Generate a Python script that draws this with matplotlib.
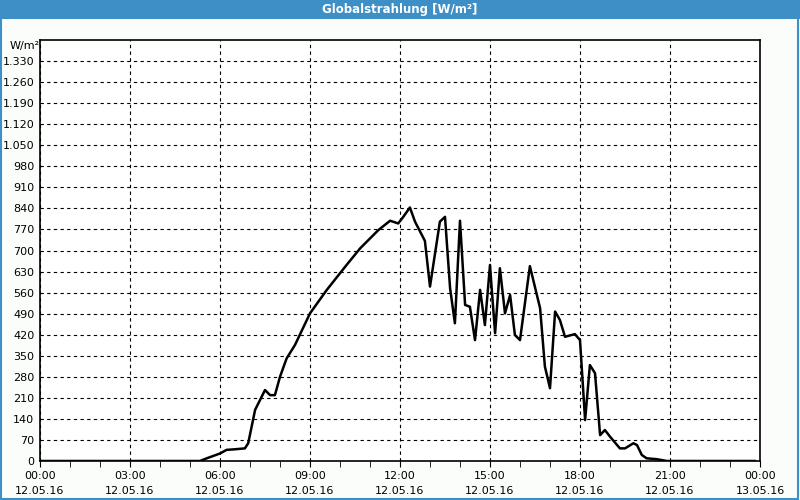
import numpy as np
import matplotlib.pyplot as plt
from matplotlib.patches import Rectangle

# hours since 12.05.16 00:00 and irradiance in W/m²
hours = [0, 5.0, 5.33, 5.56, 6.0, 6.22, 6.5, 6.83, 6.94, 7.17, 7.5, 7.67, 7.83, 8.0,
         8.22, 8.5, 9.0, 9.56, 10.22, 10.67, 11.0, 11.28, 11.67, 11.94, 12.11, 12.33,
         12.5, 12.83, 13.0, 13.33, 13.5, 13.67, 13.83, 14.0, 14.17, 14.33, 14.5, 14.67,
         14.83, 15.0, 15.06, 15.17, 15.33, 15.5, 15.67, 15.83, 16.0, 16.33, 16.67,
         16.83, 17.0, 17.17, 17.33, 17.5, 17.83, 18.0, 18.17, 18.33, 18.5, 18.67,
         18.83, 19.0, 19.33, 19.5, 19.78, 19.9, 20.06, 20.22, 20.56, 20.9, 23.83]
values = [0, 0, 0, 9, 25, 37, 39, 42, 59, 170, 236, 219, 219, 280,
          341, 386, 491, 569, 652, 707, 740, 768, 799, 790, 812, 843,
          796, 732, 580, 796, 812, 574, 458, 799, 519, 513, 402, 569,
          452, 652, 569, 425, 641, 491, 552, 419, 402, 648, 508,
          314, 242, 497, 469, 413, 422, 402, 136, 319, 292, 86,
          103, 81, 42, 42, 59, 53, 20, 9, 6, 0, 0]

yticks = list(range(0, 1400, 70))
xticks = list(range(0, 25, 3))
xlabels = ["00:00\n12.05.16", "03:00\n12.05.16", "06:00\n12.05.16", "09:00\n12.05.16",
           "12:00\n12.05.16", "15:00\n12.05.16", "18:00\n12.05.16", "21:00\n12.05.16",
           "00:00\n13.05.16"]

blue = "#3d8fc6"
fig = plt.figure(figsize=(8, 5), dpi=100, facecolor="#fafdfa")

# title bar and frame
fig.patches.append(Rectangle((0, 0.962), 1, 0.038, transform=fig.transFigure,
                             facecolor=blue, edgecolor="none"))
fig.patches.append(Rectangle((0.001, 0.002), 0.997, 0.996, transform=fig.transFigure,
                             facecolor="none", edgecolor=blue, lw=1.5))
fig.text(0.5, 0.981, "Globalstrahlung [W/m²]", color="white", fontsize=8.5,
         fontweight="bold", ha="center", va="center")

ax = fig.add_axes([0.05, 0.078, 0.9, 0.842])
ax.set_facecolor("white")
ax.plot(hours, values, color="black", lw=1.8, solid_joinstyle="round")

ax.set_xlim(0, 24)
ax.set_ylim(0, 1400)
ax.set_xticks(xticks)
ax.set_xticklabels(xlabels, fontsize=8, linespacing=1.6)
ax.set_xticks(range(0, 25), minor=True)
ax.set_yticks(yticks)
ax.set_yticklabels([f"{v:,}".replace(",", ".") for v in yticks], fontsize=8)
ax.tick_params(axis="y", length=0, pad=4)
ax.tick_params(axis="x", which="both", length=4, direction="out", pad=3)
ax.grid(True, which="major", color="black", linestyle=(0, (3, 3)), lw=0.8)
for s in ax.spines.values():
    s.set_linewidth(1.2)

fig.text(0.012, 0.908, "W/m²", fontsize=8, ha="left", va="center")

fig.savefig("out.png", dpi=100, facecolor=fig.get_facecolor())
